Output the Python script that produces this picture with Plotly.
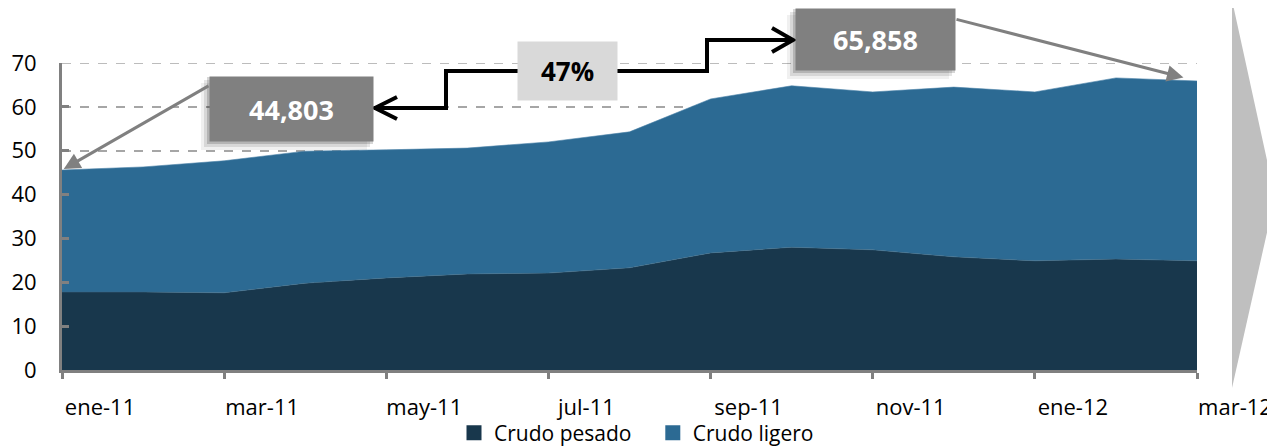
import plotly.graph_objects as go

# ---------------- data ----------------
months = ["ene-11", "feb-11", "mar-11", "abr-11", "may-11", "jun-11", "jul-11", "ago-11",
          "sep-11", "oct-11", "nov-11", "dic-11", "ene-12", "feb-12", "mar-12"]
crudo_pesado = [17.8, 17.8, 17.6, 19.8, 21.0, 21.9, 22.1, 23.3, 26.7, 28.0, 27.4, 25.8, 24.9, 25.3, 24.9]
total = [45.6, 46.3, 47.7, 49.9, 50.2, 50.6, 52.0, 54.3, 61.8, 64.8, 63.4, 64.5, 63.4, 66.6, 65.9]
crudo_ligero = [round(t - p, 2) for t, p in zip(total, crudo_pesado)]
tick_months = months[::2]
y_ticks = [0, 10, 20, 30, 40, 50, 60, 70]
label_start = "44,803"
label_end = "65,858"
label_growth = "47%"

# ---------------- layout geometry helpers (screen pixels) ----------------
OFF = 8  # default page margin around the figure
W_FIG, H_FIG = 1275 - OFF, 446 - OFF
PLOT_X0, PLOT_X1, PLOT_Y0, PLOT_Y1 = 62, 1197, 63, 370  # screen px
L = PLOT_X0 - OFF
T = PLOT_Y0 - OFF
R = W_FIG - (PLOT_X1 - OFF)
B = H_FIG - (PLOT_Y1 - OFF)
PW, PH = PLOT_X1 - PLOT_X0, PLOT_Y1 - PLOT_Y0


def px(X):
    return (X - PLOT_X0) / PW


def py(Y):
    return (PLOT_Y1 - Y) / PH


FONT = "Open Sans"
DARK = "#18374c"
LIGHT = "#2c6a93"
GRAY = "#808080"
GRID = "#a6a6a6"

fig = go.Figure()
fig.add_trace(go.Scatter(x=months, y=crudo_pesado, name="Crudo pesado", stackgroup="one",
                         mode="lines", line=dict(width=0.6, color="#3d6a86"), fillcolor=DARK,
                         showlegend=False, hoverinfo="x+y"))
fig.add_trace(go.Scatter(x=months, y=crudo_ligero, name="Crudo ligero", stackgroup="one",
                         mode="lines", line=dict(width=0.6, color="#4a82a8"), fillcolor=LIGHT,
                         showlegend=False, hoverinfo="x+y"))
# legend entries (square swatches)
fig.add_trace(go.Scatter(x=[months[0]], y=[None], mode="markers", name="Crudo pesado   ",
                         marker=dict(symbol="square", size=15, color=DARK)))
fig.add_trace(go.Scatter(x=[months[0]], y=[None], mode="markers", name="Crudo ligero",
                         marker=dict(symbol="square", size=15, color=LIGHT)))

shapes = []
# top gridline at the axis maximum
shapes.append(dict(type="line", xref="paper", yref="y", x0=0, x1=1, y0=y_ticks[-1], y1=y_ticks[-1],
                   line=dict(color=GRID, width=1.5, dash="dash"), layer="below"))
# right-side gray triangle
shapes.append(dict(type="path", xref="paper", yref="paper",
                   path=f"M {px(1232)},{py(0)} L {px(1275)},{py(197)} L {px(1232)},{py(388)} Z",
                   fillcolor="#bfbfbf", line=dict(width=0), layer="above"))


def shadow(x0, y0, x1, y1):
    out = []
    for d, op in [(9, 0.06), (6, 0.10), (3, 0.16)]:
        out.append(dict(type="rect", xref="paper", yref="paper",
                        x0=px(x0 - d), x1=px(x1 - d + 3), y0=py(y1 + d), y1=py(y0 + d - 3),
                        fillcolor="#000000", opacity=op, line=dict(width=0), layer="above"))
    return out


shapes += shadow(210, 77, 373, 141)
shapes += shadow(796, 9, 955, 70)

# black connector line
shapes.append(dict(type="path", xref="paper", yref="paper",
                   path=(f"M {px(374)},{py(108)} L {px(446)},{py(108)} L {px(446)},{py(71)} "
                         f"L {px(707)},{py(71)} L {px(707)},{py(40)} L {px(793)},{py(40)}"),
                   line=dict(color="black", width=4), layer="above"))
# chevron arrowheads
shapes.append(dict(type="path", xref="paper", yref="paper",
                   path=f"M {px(397)},{py(97)} L {px(375)},{py(108)} L {px(397)},{py(119)}",
                   line=dict(color="black", width=4), layer="above"))
shapes.append(dict(type="path", xref="paper", yref="paper",
                   path=f"M {px(772)},{py(28)} L {px(793)},{py(40)} L {px(772)},{py(52)}",
                   line=dict(color="black", width=4), layer="above"))

annotations = []
# gray arrows to first / last points
annotations.append(dict(x=months[0], y=total[0], xref="x", yref="y", text="",
                        showarrow=True, arrowhead=2, arrowsize=1.1, arrowwidth=3, arrowcolor=GRAY,
                        ax=148, ay=-85, standoff=2))
annotations.append(dict(x=months[-1], y=total[-1], xref="x", yref="y", text="",
                        showarrow=True, arrowhead=2, arrowsize=1.1, arrowwidth=3, arrowcolor=GRAY,
                        ax=-242, ay=-62, standoff=14))
# value boxes
annotations.append(dict(x=px(291.5), y=py(109), xref="paper", yref="paper", text=f"<b>{label_start}</b>",
                        showarrow=False, bgcolor=GRAY, width=159, height=60, borderpad=2,
                        font=dict(family=FONT, size=27, color="white"), xanchor="center", yanchor="middle"))
annotations.append(dict(x=px(875.5), y=py(39.5), xref="paper", yref="paper", text=f"<b>{label_end}</b>",
                        showarrow=False, bgcolor=GRAY, width=155, height=57, borderpad=2,
                        font=dict(family=FONT, size=27, color="white"), xanchor="center", yanchor="middle"))
annotations.append(dict(x=px(567.5), y=py(71), xref="paper", yref="paper", text=f"<b>{label_growth}</b>",
                        showarrow=False, bgcolor="#d9d9d9", width=95, height=54, borderpad=2,
                        font=dict(family=FONT, size=26, color="black"), xanchor="center", yanchor="middle"))

fig.update_layout(
    width=W_FIG, height=H_FIG,
    margin=dict(l=L, r=R, t=T, b=B, pad=0, autoexpand=False),
    plot_bgcolor="white", paper_bgcolor="white",
    font=dict(family=FONT, size=22, color="black"),
    showlegend=True,
    legend=dict(orientation="h", x=px(454), xanchor="left", y=py(433), yanchor="middle",
                font=dict(size=21), itemwidth=30, traceorder="normal", bgcolor="rgba(0,0,0,0)",
                tracegroupgap=0),
    shapes=shapes,
    annotations=annotations,
)
fig.update_xaxes(type="category", range=[0, len(months) - 1], tickmode="array",
                 tickvals=tick_months, ticktext=tick_months, automargin=False,
                 showline=True, linecolor=GRAY, linewidth=3, ticks="outside", ticklen=6,
                 tickwidth=3, tickcolor=GRAY, showgrid=False, zeroline=False,
                 ticklabelshift=38, ticklabelstandoff=10, layer="above traces")
fig.update_yaxes(range=[0, 70], tickmode="array", tickvals=y_ticks, automargin=False,
                 showline=True, linecolor=GRAY, linewidth=3, ticks="inside", ticklen=7,
                 tickwidth=3, tickcolor=GRAY, showgrid=True, gridcolor=GRID,
                 griddash="dash", gridwidth=1.5, zeroline=False, ticklabelstandoff=18,
                 layer="above traces")

fig.write_html("out.html")
